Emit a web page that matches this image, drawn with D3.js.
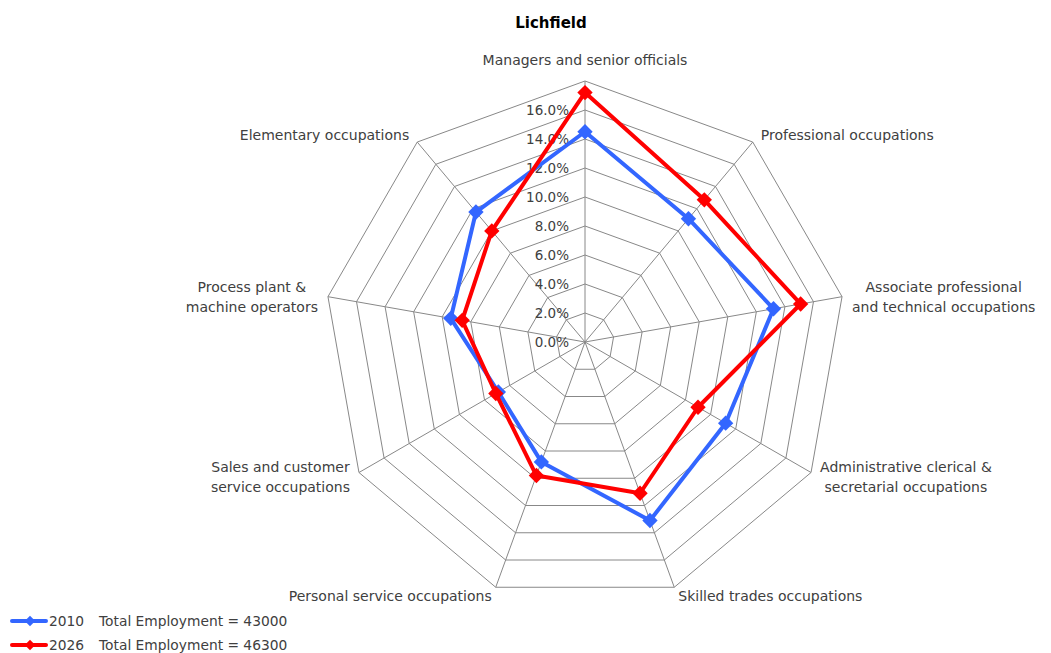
<!DOCTYPE html>
<html>
<head>
<meta charset="utf-8">
<script src="https://cdn.jsdelivr.net/npm/d3@7/dist/d3.min.js"></script>
<style>
  body { margin: 0; background: #fff; }
  text { font-family: "DejaVu Sans", sans-serif; fill: #404040; }
</style>
</head>
<body>
<div id="viz"></div>
<script>
"use strict";

var categories = [
	["Managers and senior officials"],
	["Professional occupations"],
	["Associate professional", "and technical occupations"],
	["Administrative clerical &", "secretarial occupations"],
	["Skilled trades occupations"],
	["Personal service occupations"],
	["Sales and customer", "service occupations"],
	["Process plant &", "machine operators"],
	["Elementary occupations"]
]
var values2010 = [14.5, 11.1, 13.2, 11.2, 13.1, 8.8, 6.9, 9.4, 11.7]
var values2026 = [17.2, 12.8, 15.1, 9.0, 11.1, 9.8, 7.1, 8.6, 10.0]
var tickValues = [0, 2, 4, 6, 8, 10, 12, 14, 16, 18]
var tickLabels = ["0.0%", "2.0%", "4.0%", "6.0%", "8.0%", "10.0%", "12.0%", "14.0%", "16.0%", ""]
var seriesNames = ["2010", "2026"]
var seriesNotes = ["Total Employment = 43000", "Total Employment = 46300"]
var seriesColors = ["#3366ff", "#ff0000"]

var width = 1051,
	height = 653,
	cx = 585,
	cy = 342,
	radius = 261,
	n = categories.length

var svg = d3.select("#viz")
	.append("svg")
	.attr("width", width)
	.attr("height", height)

var r = d3.scaleLinear().domain([0, 18]).range([0, radius])
var angle = d3.scaleLinear().domain([0, n]).range([0, 2 * Math.PI])

var point = function(i, v) {
	var a = angle(i)
	return [cx + r(v) * Math.sin(a), cy - r(v) * Math.cos(a)]
}

svg.append("text")
	.attr("x", 551)
	.attr("y", 28)
	.attr("text-anchor", "middle")
	.attr("font-size", "15px")
	.attr("font-weight", "bold")
	.style("fill", "#000")
	.text("Lichfield")

// web rings
var grid = svg.append("g")
grid.selectAll("polygon")
	.data(tickValues.slice(1))
	.enter()
	.append("polygon")
	.attr("points", function(t) {
		return d3.range(n).map(function(i) { return point(i, t).join(",") }).join(" ")
	})
	.attr("fill", "none")
	.attr("stroke", "#888")
	.attr("stroke-width", 1)

grid.selectAll("line")
	.data(d3.range(n))
	.enter()
	.append("line")
	.attr("x1", cx)
	.attr("y1", cy)
	.attr("x2", function(i) { return point(i, 18)[0] })
	.attr("y2", function(i) { return point(i, 18)[1] })
	.attr("stroke", "#888")
	.attr("stroke-width", 1)

// tick labels
svg.append("g").selectAll("text")
	.data(tickValues)
	.enter()
	.append("text")
	.attr("x", cx - 16)
	.attr("y", function(t) { return cy - r(t) })
	.attr("dy", "0.35em")
	.attr("text-anchor", "end")
	.attr("font-size", "13.5px")
	.text(function(t, i) { return tickLabels[i] })

// category labels, multi-line ones are centred blocks
var labelOffsets = [[0, -21], [8, -7], [10, 0], [9, 5], [4, 9], [-4, 9], [-9, 5], [-10, 0], [-8, -7]]
var labelGroup = svg.append("g")
categories.forEach(function(d, i) {
	var p = point(i, 18)
	var off = labelOffsets[i]
	var s = Math.sin(angle(i))
	var side = Math.abs(s) < 0.01 ? 0 : (s > 0 ? 1 : -1)
	var t = labelGroup.append("text")
		.attr("font-size", "14px")
		.attr("text-anchor", "middle")
	d.forEach(function(line, k) {
		t.append("tspan")
			.attr("x", 0)
			.attr("y", k * 20)
			.attr("dy", "0.35em")
			.text(line)
	})
	var w = t.node().getBBox().width
	var x = p[0] + off[0] + side * w / 2
	var y = p[1] + off[1] - (d.length - 1) * 10
	t.attr("transform", "translate(" + x + "," + y + ")")
})

// series
var lineGen = d3.line()
	.x(function(d) { return d[0] })
	.y(function(d) { return d[1] })
	.curve(d3.curveLinearClosed)

var diamond = d3.symbol().type(d3.symbolDiamond2).size(150)

;[values2010, values2026].forEach(function(vals, s) {
	var pts = vals.map(function(v, i) { return point(i, v) })
	var g = svg.append("g")
	g.append("path")
		.attr("d", lineGen(pts))
		.attr("fill", "none")
		.attr("stroke", seriesColors[s])
		.attr("stroke-width", 4)
		.attr("stroke-linejoin", "round")
	g.selectAll("path.m")
		.data(pts)
		.enter()
		.append("path")
		.attr("class", "m")
		.attr("d", diamond)
		.attr("transform", function(p) { return "translate(" + p[0] + "," + p[1] + ")" })
		.attr("fill", seriesColors[s])
})

// legend
var legend = svg.append("g")
seriesNames.forEach(function(name, s) {
	var y = 621 + s * 24
	legend.append("line")
		.attr("x1", 12).attr("x2", 46)
		.attr("y1", y).attr("y2", y)
		.attr("stroke", seriesColors[s])
		.attr("stroke-width", 4)
		.attr("stroke-linecap", "round")
	legend.append("path")
		.attr("d", d3.symbol().type(d3.symbolDiamond2).size(70))
		.attr("transform", "translate(30," + y + ")")
		.attr("fill", seriesColors[s])
	legend.append("text")
		.attr("x", 49).attr("y", y).attr("dy", "0.35em")
		.attr("font-size", "13.8px")
		.text(name)
	legend.append("text")
		.attr("x", 99).attr("y", y).attr("dy", "0.35em")
		.attr("font-size", "13.8px")
		.text(seriesNotes[s])
})
</script>
</body>
</html>
